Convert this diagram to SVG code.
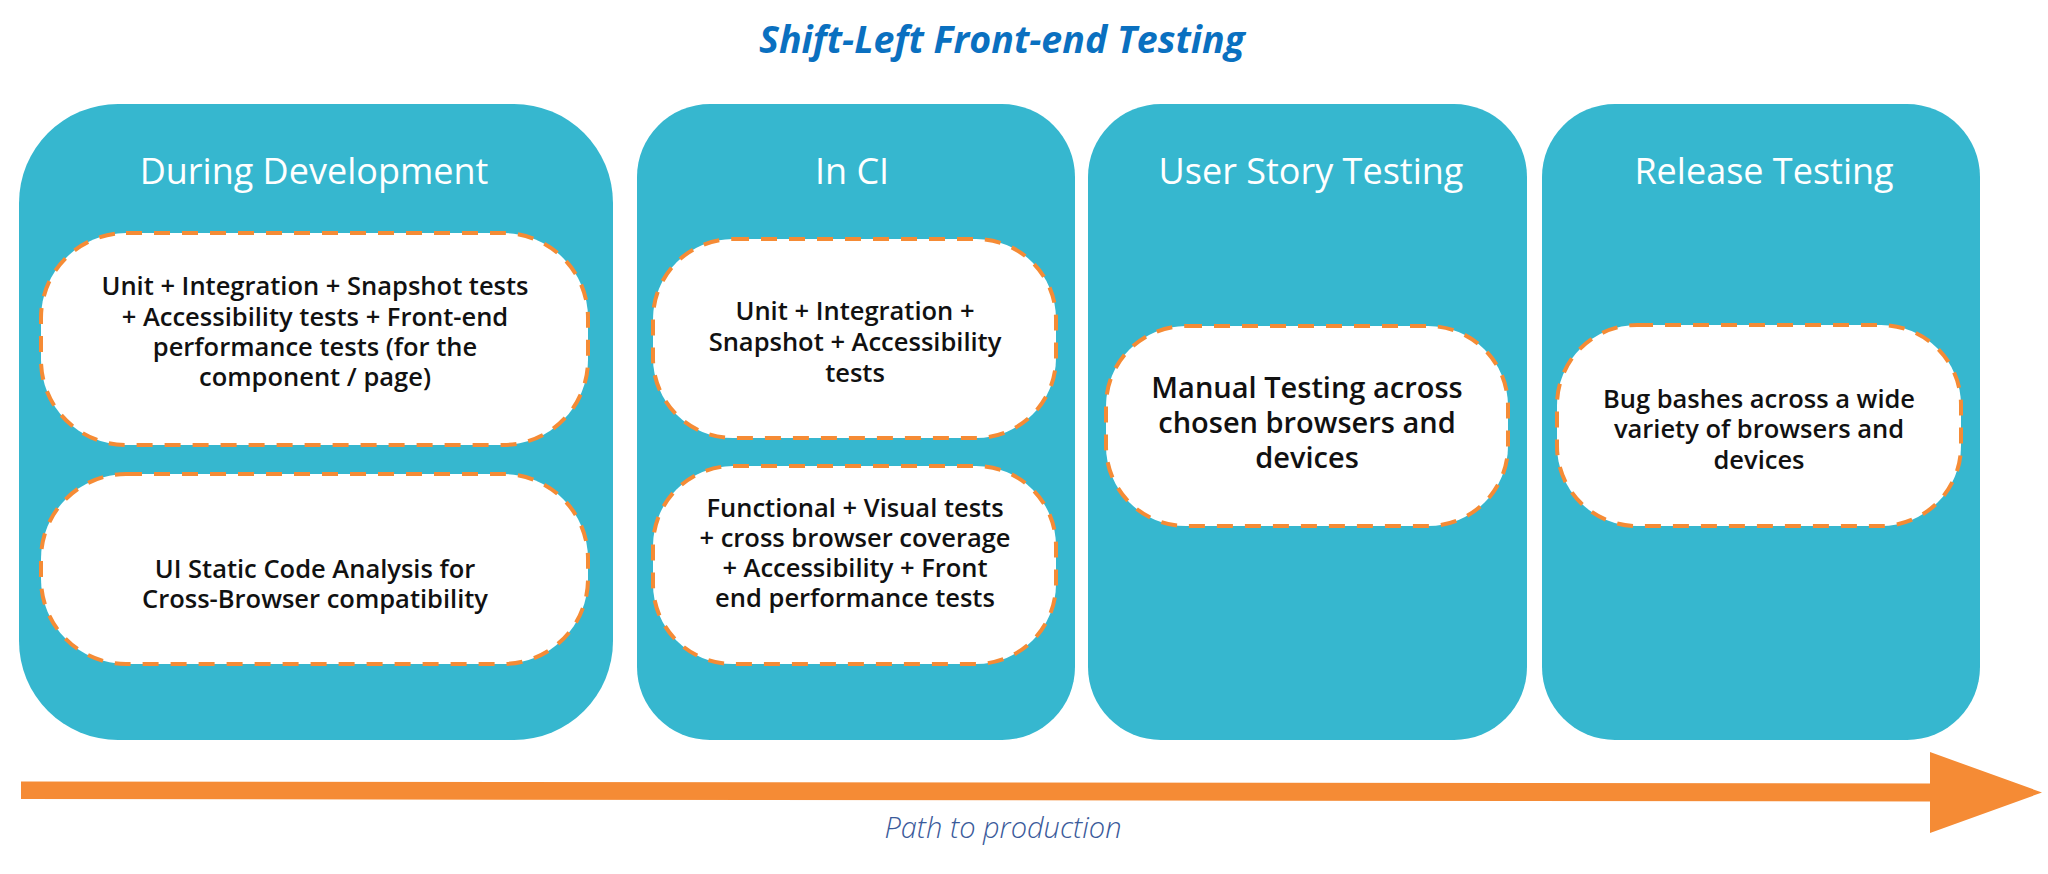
<svg xmlns="http://www.w3.org/2000/svg" width="2048" height="874" viewBox="0 0 2048 874">
<style>
.panel{fill:#36b7cf}
.pill{fill:#ffffff;stroke:#f58b35;stroke-width:4;stroke-dasharray:16 12}
.ptitle{font-family:"Open Sans","Liberation Sans",sans-serif;font-size:36px;fill:#ffffff;text-anchor:middle}
.ptext{font-family:"Open Sans","Liberation Sans",sans-serif;font-size:25.5px;font-weight:600;fill:#111111;text-anchor:middle}
.ptext-l{font-family:"Open Sans","Liberation Sans",sans-serif;font-size:29px;font-weight:600;fill:#111111;text-anchor:middle}
.title{font-family:"Open Sans","Liberation Sans",sans-serif;font-size:37.5px;font-weight:700;font-style:italic;fill:#0a70c0;text-anchor:middle}
.caption{font-family:"Open Sans","Liberation Sans",sans-serif;font-size:29px;font-weight:300;font-style:italic;fill:#3a5a9a;text-anchor:middle}
</style>
<rect width="2048" height="874" fill="#ffffff"/>
<text class="title" x="1002" y="53">Shift-Left Front-end Testing</text>

<g id="during-development">
  <rect class="panel" x="19" y="104" width="594" height="636" rx="99" ry="99"/>
  <text class="ptitle" x="314" y="184">During Development</text>
  <g id="dev-tests">
    <rect class="pill" x="41" y="233" width="547" height="212" rx="85" ry="85"/>
    <text class="ptext" x="315" y="295">Unit + Integration + Snapshot tests</text>
    <text class="ptext" x="315" y="326">+ Accessibility tests + Front-end</text>
    <text class="ptext" x="315" y="356">performance tests (for the</text>
    <text class="ptext" x="315" y="386">component / page)</text>
  </g>
  <g id="dev-static-analysis">
    <rect class="pill" x="41" y="474" width="547" height="190" rx="85" ry="85"/>
    <text class="ptext" x="315" y="578">UI Static Code Analysis for</text>
    <text class="ptext" x="315" y="608">Cross-Browser compatibility</text>
  </g>
</g>

<g id="in-ci">
  <rect class="panel" x="637" y="104" width="438" height="636" rx="73" ry="73"/>
  <text class="ptitle" x="852" y="184">In CI</text>
  <g id="ci-unit-tests">
    <rect class="pill" x="653" y="239" width="403" height="199" rx="80" ry="80"/>
    <text class="ptext" x="855" y="320">Unit + Integration +</text>
    <text class="ptext" x="855" y="351">Snapshot + Accessibility</text>
    <text class="ptext" x="855" y="382">tests</text>
  </g>
  <g id="ci-functional-tests">
    <rect class="pill" x="653" y="466" width="403" height="198" rx="80" ry="80"/>
    <text class="ptext" x="855" y="517">Functional + Visual tests</text>
    <text class="ptext" x="855" y="547">+ cross browser coverage</text>
    <text class="ptext" x="855" y="577">+ Accessibility + Front</text>
    <text class="ptext" x="855" y="607">end performance tests</text>
  </g>
</g>

<g id="user-story-testing">
  <rect class="panel" x="1088" y="104" width="439" height="636" rx="73" ry="73"/>
  <text class="ptitle" x="1311" y="184">User Story Testing</text>
  <g id="manual-testing">
    <rect class="pill" x="1106" y="326" width="402" height="200" rx="80" ry="80"/>
    <text class="ptext-l" x="1307" y="398">Manual Testing across</text>
    <text class="ptext-l" x="1307" y="433">chosen browsers and</text>
    <text class="ptext-l" x="1307" y="468">devices</text>
  </g>
</g>

<g id="release-testing">
  <rect class="panel" x="1542" y="104" width="438" height="636" rx="73" ry="73"/>
  <text class="ptitle" x="1764" y="184">Release Testing</text>
  <g id="bug-bashes">
    <rect class="pill" x="1557" y="325" width="404" height="201" rx="80" ry="80"/>
    <text class="ptext" x="1759" y="408">Bug bashes across a wide</text>
    <text class="ptext" x="1759" y="438">variety of browsers and</text>
    <text class="ptext" x="1759" y="469">devices</text>
  </g>
</g>

<g id="connectors">
  <polygon points="21,781.5 1930,783.5 1930,752 2042,792.5 1930,833 1930,801.5 21,799" fill="#f58b35"/>
  <text class="caption" x="1003" y="838">Path to production</text>
</g>
</svg>
